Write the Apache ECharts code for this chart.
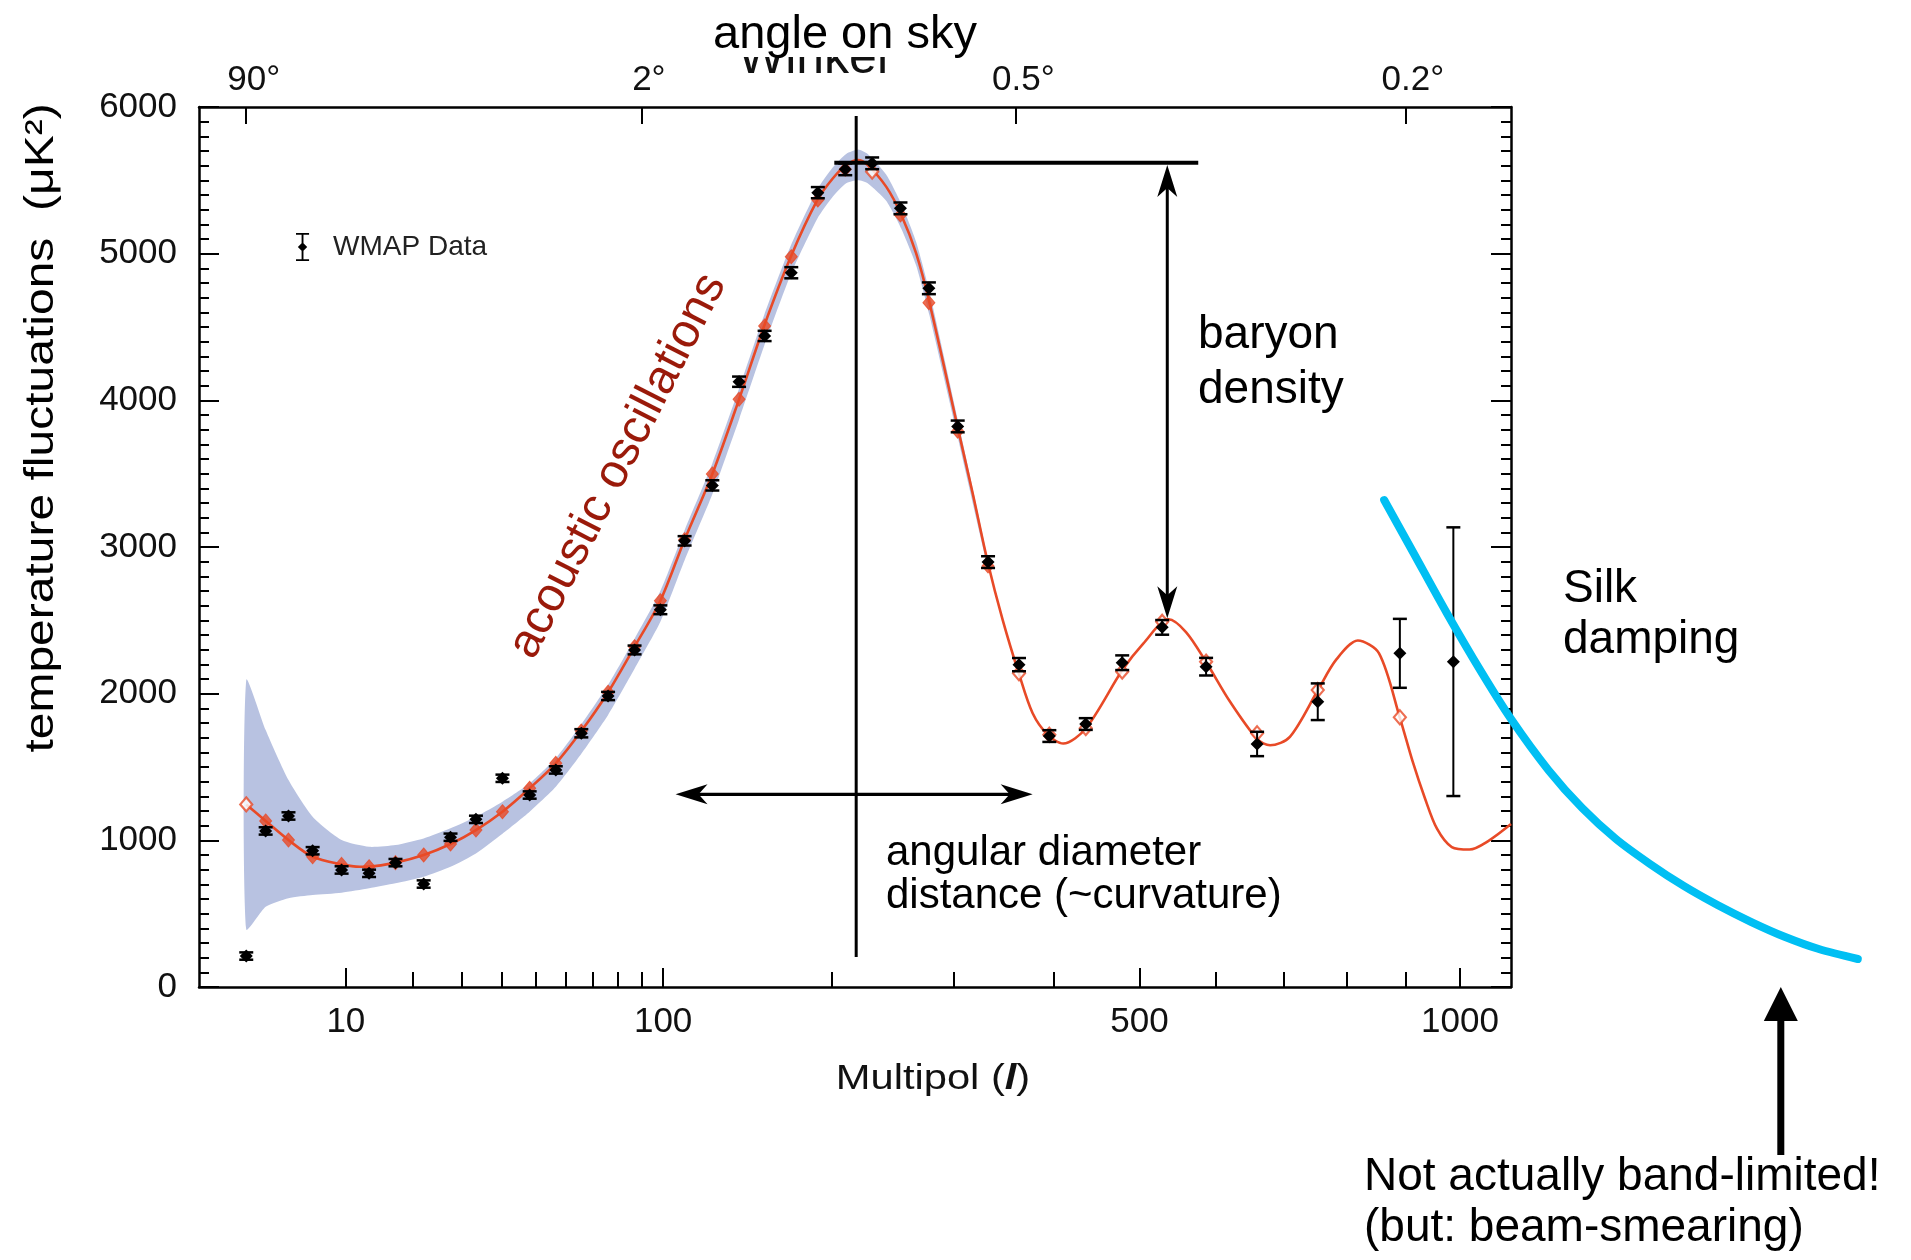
<!DOCTYPE html>
<html><head><meta charset="utf-8">
<script src="https://cdn.jsdelivr.net/npm/echarts@6/dist/echarts.min.js"></script>
<style>html,body{margin:0;padding:0;background:#fff}#c{width:1911px;height:1260px}</style>
</head><body><div id="c"></div>
<script>
// ---- x scale: the figure's multipole axis is spaced as l^0.4 ----
const POW = 0.4;
const U = l => Math.pow(l, POW);
const L = u => Math.pow(u, 1 / POW);
const FF = "'Liberation Sans', Arial, Helvetica, sans-serif";

// axis extents and ticks
const xRangeL = [0.4937, 1099];
const yRange = [0, 6000];
const xTickMajor = [10, 100, 500, 1000];
const xTickMinor = [20, 30, 40, 50, 60, 70, 80, 90, 200, 300, 400, 600, 700, 800, 900];
const angleTicks = [90, 2, 0.5, 0.2]; // degrees, l = 180/angle

// WMAP binned data
const dataL = [2, 3, 4.5, 6.5, 9.5, 13, 17, 22, 27.5, 33.4, 40.3, 48.2, 56.6, 65.6, 75.9, 87, 98.7, 110.5, 125, 140, 155.3, 172.3, 190.3, 210, 230.5, 253.3, 277.5, 303.4, 332.2, 363.2, 395.2, 435.8, 478.8, 528.8, 587.2, 659.7, 752.6, 890.2, 987.4];
const dataV = [211, 1064, 1166, 929, 798, 775, 848, 702, 1021, 1143, 1423, 1309, 1480, 1730, 1984, 2298, 2572, 3042, 3420, 4127, 4439, 4870, 5416, 5575, 5616, 5309, 4764, 3822, 2897, 2198, 1711, 1793, 2211, 2452, 2184, 1657, 1945, 2275, 2218];
const dataErr = [25, 25, 25, 25, 25, 25, 25, 25, 25, 25, 25, 25, 25, 28, 28, 30, 30, 32, 35, 35, 35, 38, 38, 40, 40, 40, 40, 40, 40, 45, 40, 40, 50, 50, 60, 83, 125, 235, 916];

// binned model (red diamonds); open = hollow marker
const modelBinV = [1245, 1132, 1002, 888, 836, 820, 848, 900, 975, 1070, 1195, 1355, 1525, 1745, 2010, 2320, 2634, 3050, 3498, 4007, 4507, 4979, 5366, 5575, 5559, 5264, 4666, 3790, 2870, 2139, 1720, 1765, 2150, 2490, 2218, 1730, 2025, 1839, null];
const modelBinOpen = [1, 0, 0, 0, 0, 0, 0, 0, 0, 0, 0, 0, 0, 0, 0, 0, 0, 0, 0, 0, 0, 0, 0, 0, 1, 0, 0, 0, 0, 1, 1, 1, 1, 1, 1, 1, 1, 1, 1];

// model curve
const modelL = [2, 3, 4.5, 6.5, 9.5, 11.75, 13, 17, 22, 27.5, 33.4, 40.3, 48.2, 56.6, 65.6, 75.9, 87, 98.7, 110.5, 125, 140, 155, 172, 190, 201, 210.7, 219.6, 227, 241.6, 254, 266.5, 278, 303.4, 317.4, 332, 346.7, 363, 377.4, 393.4, 410.4, 436, 479, 505, 537, 560, 587, 620, 660, 679, 709, 753, 782, 818, 854, 890, 913, 935, 957, 984.5, 1018, 1054, 1099];
const modelV = [1245, 1132, 1002, 888, 836, 820, 821, 848, 900, 975, 1070, 1195, 1355, 1525, 1745, 2010, 2320, 2634, 3050, 3498, 4007, 4507, 4979, 5366, 5514, 5605, 5639, 5604, 5457, 5264, 5002, 4666, 3815, 3366, 2893, 2502, 2139, 1866, 1720, 1660, 1764, 2161, 2343, 2507, 2420, 2218, 1950, 1690, 1648, 1705, 2025, 2230, 2362, 2275, 1839, 1536, 1287, 1079, 954, 937, 995, 1111];

// cosmic-variance band
const bandL = [2, 3, 4.5, 6.5, 9.5, 13, 17, 22, 27.5, 33.4, 40.3, 48.2, 56.6, 65.6, 75.9, 87, 98.7, 110.5, 125, 140, 155, 172, 190, 201, 210.7, 219.6, 227, 241.6, 254, 266.5, 278, 303.4, 332];
const bandHi = [2093, 1752, 1411, 1161, 1002, 956, 968, 1013, 1082, 1161, 1263, 1389, 1560, 1790, 2060, 2375, 2700, 3115, 3570, 4080, 4580, 5055, 5440, 5590, 5680, 5710, 5680, 5540, 5340, 5080, 4740, 3870, 2920];
const bandLo = [393, 547, 605, 627, 643, 673, 707, 752, 820, 911, 1045, 1195, 1365, 1590, 1855, 2170, 2490, 2910, 3360, 3870, 4370, 4860, 5240, 5390, 5480, 5500, 5480, 5360, 5170, 4920, 4580, 3750, 2860];

// cyan "Silk damping" sketch curve
const cyanL = [862.8, 913.5, 975.1, 1039.4, 1099.1, 1175.1, 1246.8, 1320.9, 1398.1, 1477.3, 1559.2, 1644.1, 1731.6, 1821.1, 1928.4];
const cyanV = [3320, 2966, 2550, 2155, 1827, 1480, 1220, 1009, 839, 689, 559, 443, 341, 259, 191];

// annotation lines (data coordinates)
const peakLineL = 218.2, peakLineV = [204.5, 5938];
const heightLineV = 5620, heightLineL = [202, 576.5];
const baryonArrowL = 535.4, baryonArrowV = [5604, 2514];
const diamArrowV = 1314, diamArrowL = [106, 377.4];
const bandArrowL = 1720, bandArrowV = [-1145, 0];

const chart = echarts.init(document.getElementById('c'), null, {renderer: 'canvas'});

function seg(a, b, w) {
  return {type: 'line', shape: {x1: a[0], y1: a[1], x2: b[0], y2: b[1]}, style: {stroke: '#000', lineWidth: w}};
}
function head(tip, dir, len, hw, notch) {
  const nx = -dir[1], ny = dir[0];
  const bx = tip[0] - dir[0] * len, by = tip[1] - dir[1] * len;
  const mx = tip[0] - dir[0] * (len - notch), my = tip[1] - dir[1] * (len - notch);
  return {type: 'polygon', shape: {points: [tip, [bx + nx * hw, by + ny * hw], [mx, my], [bx - nx * hw, by - ny * hw]]}, style: {fill: '#000'}};
}
function dbl(a, b, w) {
  const dx = b[0] - a[0], dy = b[1] - a[1], d = Math.hypot(dx, dy), u = [dx / d, dy / d];
  return [seg([a[0] + u[0] * 12, a[1] + u[1] * 12], [b[0] - u[0] * 12, b[1] - u[1] * 12], w),
          head(b, u, 32, 10, 9), head(a, [-u[0], -u[1]], 32, 10, 9)];
}

const xMin = U(xRangeL[0]), xMax = U(xRangeL[1]);
const axisFont = {fontSize: 35, color: '#111', fontFamily: FF};

const option = {
  backgroundColor: '#fff',
  animation: false,
  grid: {left: 199, top: 107, width: 1312, height: 880, containLabel: false},
  legend: {
    left: 291, top: 228, selectedMode: false, itemWidth: 15, itemHeight: 28,
    data: [{name: 'WMAP Data', icon: 'path://M0,0H14V2H8V11L12,15L8,19V28H14V30H0V28H6V19L2,15L6,11V2H0Z'}],
    textStyle: {fontSize: 28, color: '#222', fontFamily: FF, padding: [0, 0, 0, 18]}
  },
  xAxis: [
    {type: 'value', position: 'bottom', min: xMin, max: xMax,
     axisLine: {show: true, onZero: false, lineStyle: {color: '#000', width: 2.5}},
     axisTick: {show: true, inside: true, length: 19, customValues: xTickMajor.map(U), lineStyle: {color: '#000', width: 2}},
     axisLabel: {show: true, customValues: xTickMajor.map(U), formatter: v => String(Math.round(L(v))), margin: 18, ...axisFont},
     splitLine: {show: false}},
    {type: 'value', position: 'bottom', min: xMin, max: xMax,
     axisLine: {show: false},
     axisTick: {show: true, inside: true, length: 15, customValues: xTickMinor.map(U), lineStyle: {color: '#000', width: 2}},
     axisLabel: {show: false}, splitLine: {show: false}},
    {type: 'value', position: 'top', min: xMin, max: xMax,
     axisLine: {show: true, onZero: false, lineStyle: {color: '#000', width: 2.5}},
     axisTick: {show: true, inside: true, length: 17, customValues: angleTicks.map(a => U(180 / a)), lineStyle: {color: '#000', width: 2}},
     axisLabel: {show: true, customValues: angleTicks.map(a => U(180 / a)), formatter: v => (Math.round(180 / L(v) * 10) / 10) + '°', margin: 9, padding: [0, 0, 0, 15], ...axisFont},
     splitLine: {show: false}}
  ],
  yAxis: [
    {type: 'value', position: 'left', min: yRange[0], max: yRange[1], interval: 1000,
     axisLine: {show: true, onZero: false, lineStyle: {color: '#000', width: 2.5}},
     axisTick: {show: true, inside: true, length: 20, lineStyle: {color: '#000', width: 2}},
     minorTick: {show: true, splitNumber: 10, length: 10, lineStyle: {color: '#000', width: 2}},
     axisLabel: {margin: 22, formatter: v => String(v), ...axisFont}, splitLine: {show: false}},
    {type: 'value', position: 'right', min: yRange[0], max: yRange[1], interval: 1000,
     axisLine: {show: true, onZero: false, lineStyle: {color: '#000', width: 2.5}},
     axisTick: {show: true, inside: true, length: 20, lineStyle: {color: '#000', width: 2}},
     minorTick: {show: true, splitNumber: 10, length: 10, lineStyle: {color: '#000', width: 2}},
     axisLabel: {show: false}, splitLine: {show: false}}
  ],
  series: [
    {name: 'band', type: 'custom', z: 1, silent: true, clip: true,
     data: [[U(bandL[0]), bandHi[0]]],
     renderItem: (params, api) => {
       const top = bandL.map((l, i) => api.coord([U(l), bandHi[i]]));
       const bot = bandL.map((l, i) => api.coord([U(l), bandLo[i]])).reverse();
       return {type: 'polygon', shape: {points: top.concat(bot), smooth: 0.2}, style: {fill: '#b8c2e1'}};
     }},
    {name: 'model', type: 'line', z: 2, silent: true, smooth: 0.3, showSymbol: false,
     data: modelL.map((l, i) => [U(l), modelV[i]]),
     lineStyle: {color: '#e84a27', width: 2.6}},
    {name: 'modelBins', type: 'scatter', z: 3, silent: true, symbol: 'diamond', symbolSize: [12, 14],
     data: dataL.map((l, i) => modelBinV[i] == null ? null : {
       value: [U(l), modelBinV[i]],
       itemStyle: modelBinOpen[i] ? {color: '#fff', borderColor: '#e84a27', borderWidth: 2.2} : {color: '#e84a27', borderColor: '#e84a27', borderWidth: 1}
     }).filter(d => d)},
    {name: 'WMAP Data', type: 'custom', z: 4, silent: true, itemStyle: {color: '#000'},
     data: dataL.map((l, i) => [U(l), dataV[i], dataErr[i]]),
     renderItem: (params, api) => {
       const x = api.value(0), v = api.value(1), e = api.value(2);
       const p = api.coord([x, v]), pt = api.coord([x, v + e]), pb = api.coord([x, v - e]);
       const cw = 7;
       return {type: 'group', children: [
         {type: 'line', shape: {x1: p[0], y1: pt[1], x2: p[0], y2: pb[1]}, style: {stroke: '#000', lineWidth: 2}},
         {type: 'line', shape: {x1: p[0] - cw, y1: pt[1], x2: p[0] + cw, y2: pt[1]}, style: {stroke: '#000', lineWidth: 2.5}},
         {type: 'line', shape: {x1: p[0] - cw, y1: pb[1], x2: p[0] + cw, y2: pb[1]}, style: {stroke: '#000', lineWidth: 2.5}},
         {type: 'polygon', shape: {points: [[p[0], p[1] - 6.5], [p[0] + 6.5, p[1]], [p[0], p[1] + 6.5], [p[0] - 6.5, p[1]]]}, style: {fill: '#000'}}
       ]};
     }},
    {name: 'annotations', type: 'custom', z: 5, silent: true, clip: false,
     data: [[U(peakLineL), peakLineV[1]]],
     renderItem: (params, api) => {
       const c = (l, v) => api.coord([U(l), v]);
       const kids = [];
       kids.push(seg(c(peakLineL, peakLineV[0]), c(peakLineL, peakLineV[1]), 3));
       kids.push(seg(c(heightLineL[0], heightLineV), c(heightLineL[1], heightLineV), 4));
       kids.push(...dbl(c(baryonArrowL, baryonArrowV[0]), c(baryonArrowL, baryonArrowV[1]), 3));
       kids.push(...dbl(c(diamArrowL[0], diamArrowV), c(diamArrowL[1], diamArrowV), 3.2));
       const a0 = c(bandArrowL, bandArrowV[0]), a1 = c(bandArrowL, bandArrowV[1]);
       kids.push(seg(a0, [a1[0], a1[1] + 25], 7));
       kids.push(head(a1, [0, -1], 34, 17, 0));
       return {type: 'group', children: kids};
     }},
    {name: 'silk', type: 'custom', z: 6, silent: true, clip: false,
     data: [[U(cyanL[0]), cyanV[0]]],
     renderItem: (params, api) => ({
       type: 'polyline',
       shape: {points: cyanL.map((l, i) => api.coord([U(l), cyanV[i]])), smooth: 0.3},
       style: {stroke: '#00bff3', lineWidth: 8, fill: null, lineCap: 'round'}
     })}
  ],
  graphic: [
    {type: 'text', z: 10, x: 813, y: 59, style: {text: 'Winkel', fontSize: 50, fontFamily: FF, fill: '#111', align: 'center', verticalAlign: 'middle'}},
    {type: 'rect', z: 11, shape: {x: 690, y: 0, width: 300, height: 57}, style: {fill: '#fff'}},
    {type: 'text', z: 12, x: 845, y: 35, style: {text: 'angle on sky', fontSize: 47, fontFamily: FF, fill: '#000', align: 'center', verticalAlign: 'middle'}},
    {type: 'text', z: 12, x: 42, y: 428, rotation: Math.PI / 2, scaleX: 1.2,
     style: {text: 'temperature fluctuations  (μK²)', fontSize: 40, fontFamily: FF, fill: '#000', align: 'center', verticalAlign: 'middle'}},
    {type: 'text', z: 12, x: 933, y: 1079, scaleX: 1.19,
     style: {text: 'Multipol ({i|l})', fontSize: 35, fontFamily: FF, fill: '#111', align: 'center', verticalAlign: 'middle',
             rich: {i: {fontSize: 35, fontFamily: FF, fontStyle: 'italic', fontWeight: 'bold', fill: '#111'}}}},
    {type: 'text', z: 12, x: 618, y: 466, rotation: 63 * Math.PI / 180,
     style: {text: 'acoustic oscillations', fontSize: 48, fontFamily: FF, fill: '#9a1a0a', align: 'center', verticalAlign: 'middle'}},
    {type: 'text', z: 12, x: 1198, y: 335, style: {text: 'baryon', fontSize: 46, fontFamily: FF, fill: '#000', align: 'left', verticalAlign: 'middle'}},
    {type: 'text', z: 12, x: 1198, y: 390, style: {text: 'density', fontSize: 46, fontFamily: FF, fill: '#000', align: 'left', verticalAlign: 'middle'}},
    {type: 'text', z: 12, x: 886, y: 853, style: {text: 'angular diameter', fontSize: 42, fontFamily: FF, fill: '#000', align: 'left', verticalAlign: 'middle'}},
    {type: 'text', z: 12, x: 886, y: 896, style: {text: 'distance (~curvature)', fontSize: 42, fontFamily: FF, fill: '#000', align: 'left', verticalAlign: 'middle'}},
    {type: 'text', z: 12, x: 1563, y: 589, style: {text: 'Silk', fontSize: 46, fontFamily: FF, fill: '#000', align: 'left', verticalAlign: 'middle'}},
    {type: 'text', z: 12, x: 1563, y: 640, style: {text: 'damping', fontSize: 46, fontFamily: FF, fill: '#000', align: 'left', verticalAlign: 'middle'}},
    {type: 'text', z: 12, x: 1364, y: 1177, style: {text: 'Not actually band-limited!', fontSize: 46, fontFamily: FF, fill: '#000', align: 'left', verticalAlign: 'middle'}},
    {type: 'text', z: 12, x: 1364, y: 1228, style: {text: '(but: beam-smearing)', fontSize: 46, fontFamily: FF, fill: '#000', align: 'left', verticalAlign: 'middle'}}
  ]
};
chart.setOption(option);
</script>
</body></html>
